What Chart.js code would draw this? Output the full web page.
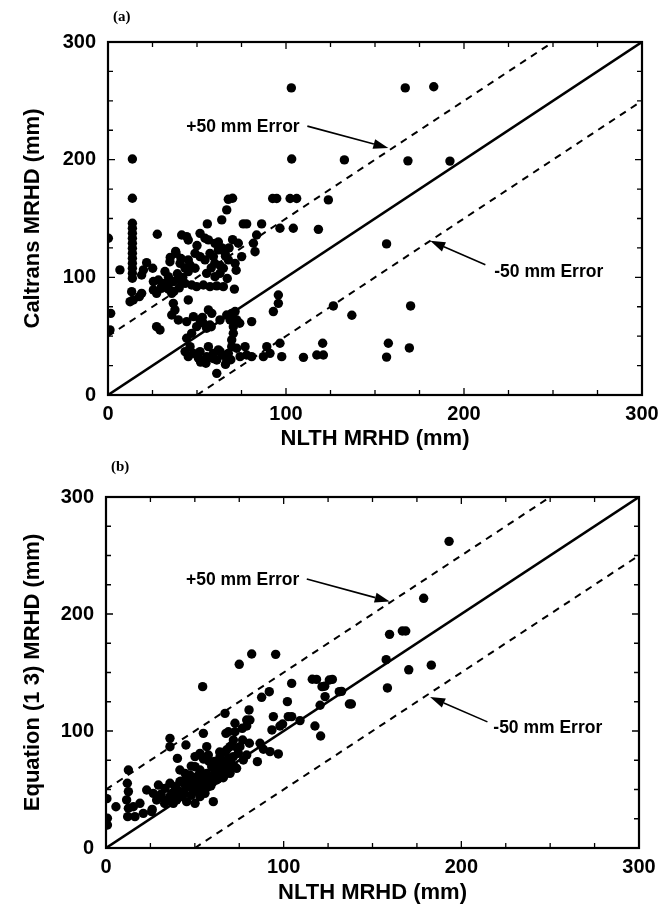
<!DOCTYPE html>
<html>
<head>
<meta charset="utf-8">
<script src="https://cdn.jsdelivr.net/npm/chart.js@4.4.1/dist/chart.umd.min.js"></script>
<style>
  html, body { margin: 0; padding: 0; background: #fff; }
  #wrap { position: relative; width: 668px; height: 909px; }
  canvas { position: absolute; left: 0; }
  #chartA { top: 0; }
  #chartB { top: 450px; }
</style>
</head>
<body>
<div id="wrap">
  <canvas id="chartA" width="668" height="455"></canvas>
  <canvas id="chartB" width="668" height="459"></canvas>
</div>
<script>
// (a) Caltrans MRHD vs NLTH MRHD, mm
var caltransNlth = [103, 167, 183, 13.7, 103.2, 132.8, 168.5, 192.1,
  13.7, 67.6, 70, 92.5, 94.8, 102.3, 106, 123.8, 66.7, 63.9,
  13.7, 13.7, 13.7, 13.7, 13.7, 13.7, 13.7, 13.7, 13.7, 13.7, 13.7, 13.7,
  0.2, 6.7, 21.7, 25.1, 27.7, 19.9, 18.9, 13.3, 14.2, 17.6, 12.4, 18.9, 1.5, 1.1,
  25.5, 27.3, 30.2, 33, 33.9, 32, 34.8, 38.2, 40.5, 43.3,
  41.4, 44.2, 45.1, 51.7, 54.5, 56.4, 55.8,
  76, 77.9, 86.3, 83.5, 81.7, 82.6, 73.2, 75.1, 71.4,
  96.6, 104.1, 118.2,
  48.9, 51.7, 54.5, 57.3, 59.2, 62, 60.1, 45.1, 46.1, 48.9, 45.1,
  65.8, 67.6, 64.8, 62.9, 55.4, 60.1,
  25.5, 28.3, 31.1, 33.9, 36.7, 40.5, 43.3, 47, 49.8, 53.6, 57.3, 61.1, 64.8,
  35.8, 36.7, 37.6, 35.8, 39.5, 44.2, 48, 45.1, 27.3, 29.2,
  56.4, 58.3, 51.7, 49.8, 47, 44.2, 53.6, 55.4, 57.3,
  62.9, 66.7, 69.5, 71.4, 72.3, 70.4, 68.6, 70.4, 69.5, 69.5, 67.6,
  80.7, 92.9, 95.7, 95.7,
  46.1, 43.3, 45.1, 48, 51.7, 50.8, 56.4, 59.2, 62, 63.9, 66.7, 61.1, 55.4,
  72.3, 74.2, 77, 77.9, 80.7, 61.1, 87.3, 89.2, 91, 96.6,
  97.6, 109.8, 117.3, 120.6, 121, 126.6, 137, 170, 156.5, 157.5, 156.5, 169.3,
  35, 38, 41, 39, 42, 58, 60, 63, 66, 68, 70, 72, 64, 67, 71, 74, 53, 58, 62, 50,
  30, 34, 37, 40, 52, 55, 59, 63, 66, 69];
var caltransMrhd = [261, 261, 262, 200.6, 200.6, 199.8, 199, 198.8,
  167.2, 166.3, 167.2, 167, 167, 167, 167, 165.8, 157.3, 148.8,
  146, 141.7, 137.4, 133.2, 128.9, 124.7, 120.4, 116.2, 111.9, 107.7, 103.4, 99.2,
  133.2, 106.3, 112.5, 107.7, 136.6, 106.3, 102, 87.8, 80.8, 83.6, 79.3, 86.4, 69.4, 55.3,
  89.3, 86.4, 90.7, 95, 100.6, 104.9, 113.3, 120.4, 111.9, 107.7,
  136, 134.6, 131.7, 137.4, 133.2, 131.8, 145.4,
  145.4, 145.4, 145.4, 136, 129, 121.8, 129, 117.6, 111.9,
  141.7, 141.7, 140.8,
  120.4, 117.6, 114.8, 120.4, 117.6, 123.3, 128.9, 114.8, 110.5, 107.7, 104.9,
  120.4, 114.8, 107.7, 103.4, 103.4, 100.6,
  96.4, 97.7, 94.9, 93.5, 96.4, 97.7, 94.9, 93.5, 92.1, 93.5, 92.1, 92.7, 92.1,
  86.4, 77.9, 72.3, 68, 63.8, 62.4, 66.6, 80.8, 58.1, 55.3,
  72.3, 69.4, 63.8, 58.1, 52.4, 48.2, 61, 56.7, 59.5,
  63.8, 68, 69.4, 70.9, 63.8, 58.1, 63.8, 52.4, 46.8, 41.1, 35.4,
  62.4, 70.9, 77.9, 85,
  41.1, 36.9, 32.6, 35.4, 36.9, 31.2, 41.1, 35.4, 38.3, 34, 29.8, 29.8, 32.6,
  39.7, 32.6, 41.1, 34, 32.6, 18.4, 32.6, 41.1, 35.4, 44,
  32.6, 32, 34, 44, 34, 75.7, 67.8, 75.7, 128.4, 44, 32.2, 40,
  117, 122, 116, 103, 100, 108, 112, 110, 118, 125, 132, 106, 125, 99, 90, 61, 66, 58, 130, 127,
  92, 90, 88, 91, 28, 27, 31, 37, 26, 30];

// (b) Equation (13) MRHD vs NLTH MRHD, mm
var eq13Nlth = [82, 95.5, 75, 54.4, 104.5, 116.1, 125.7, 121.6, 123.3, 131.3, 137, 120.5,
  117.6, 120.8, 109.2, 102.6, 104.5, 99.4, 97.9, 94.2, 93.4, 102.1, 87.6, 91.9,
  80.5, 79.2, 76.7, 72.6, 68.9, 67.5, 67, 54.8, 56.7, 45, 36, 36, 40.2, 12.6,
  0.5, 0.8, 0.8, 5.6, 12, 12.6, 11.6, 12.6, 12.2, 15.4, 19.1, 16.3, 21,
  22.9, 26.6, 25.7, 28.5, 30.4, 34.2, 37, 39.8, 42.6,
  29.5, 33.2, 36, 38.8, 41.6, 44.5, 41.6, 44.5, 47.3, 50.1, 52.9,
  37.9, 45.4, 50.1, 52.9, 55.7, 50.1, 52.9, 54.8, 57.6,
  47.3, 51, 54.8, 58.5, 61.4, 63.2, 60.4,
  65.1, 67, 69.8, 71.7, 74.5, 77.3, 79.2, 56.7, 59.5, 62.3, 64.2,
  66, 69.8, 73.5, 75.4, 76.9, 80.7, 85.2, 86.7, 88.6, 92.3, 97, 71.7, 72.6, 79.2, 81,
  193.1, 178.8, 159.6, 166.8, 168.7, 157.7, 170.4, 183.1, 158.4, 138.1, 132.6, 127.4, 123.1, 118.5,
  43, 46, 48, 50, 53, 56, 58, 60, 62, 64, 66, 68, 70, 58, 61, 64, 67, 48, 52, 45,
  40, 44, 47, 51, 55, 59, 63, 66, 69, 72, 42, 46, 49, 53, 57, 61, 65, 68, 71, 74,
  36, 39, 33, 31, 26, 60, 63, 67, 70, 55];
var eq13Mrhd = [165.8, 165.5, 157, 137.9, 140.7, 144.2, 143.6, 137.9, 129.4, 133.6, 123.1, 122,
  104.3, 95.7, 108.9, 112.3, 112.3, 106, 104.3, 112.3, 100.9, 125.1, 128.8, 133.6,
  118, 109.4, 102.3, 106.6, 99.4, 98, 115.1, 98, 86.6, 88, 93.7, 86.6, 76.6, 66.7,
  42.2, 25.4, 19.7, 35.3, 55.3, 48.2, 41.1, 34, 26.8, 35.3, 38.2, 26.8, 29.6,
  49.6, 46.7, 31.1, 41, 43.9, 41, 46.7, 41, 43.9,
  53.8, 51, 55.3, 52.4, 56.7, 53.8, 66.7, 63.8, 62.4, 69.5, 66.7,
  38.2, 39.6, 38.2, 43.9, 46.7, 78.1, 80.9, 76.6, 79.5,
  52.4, 55.3, 56.7, 59.5, 63.8, 68.1, 39.6,
  75.2, 82.3, 86.6, 78.1, 80.9, 75.2, 79.5, 63.8, 69.5, 72.4, 78.1,
  60.9, 63.8, 68.1, 86.6, 92.3, 89.5, 73.8, 89.5, 84.4, 82.4, 80.4, 92.3, 99.4, 104.3, 109.4,
  262.1, 213.4, 182.6, 185.5, 185.5, 161, 152.3, 156.3, 136.8, 123.1, 133.9, 144.1, 138.3, 144.1,
  48, 58, 45, 60, 50, 62, 55, 70, 58, 66, 72, 64, 74, 74, 68, 82, 72, 70, 62, 58,
  50, 47, 52, 49, 60, 53, 66, 60, 77, 70, 57, 62, 58, 65, 52, 74, 69, 84, 88, 85,
  44, 47, 38, 46, 33, 56, 59, 64, 67, 76];

// reference lines: perfect agreement and +/-50 mm error
var perfectX = [0, 300], perfectY = [0, 300];
var plus50X = [0, 250], plus50Y = [50, 300];
var minus50X = [50, 300], minus50Y = [0, 250];

var tickMarks = [0, 25, 50, 75, 100, 125, 150, 175, 200, 225, 250, 275, 300];

function pairs(xs, ys) {
  return xs.map(function (v, i) { return { x: v, y: ys[i] }; });
}

var frame = {
  id: 'frame',
  afterDatasetsDraw: function (chart, args, opts) {
    var ctx = chart.ctx, a = chart.chartArea;
    var xs = chart.scales.x, ys = chart.scales.y;
    ctx.save();
    ctx.strokeStyle = '#000';
    ctx.lineWidth = 2.2;
    ctx.strokeRect(a.left, a.top, a.right - a.left, a.bottom - a.top);
    ctx.lineWidth = 1.3;
    ctx.beginPath();
    tickMarks.forEach(function (v) {
      var px = xs.getPixelForValue(v), py = ys.getPixelForValue(v);
      var len = v % 100 === 0 ? 7 : 5;
      ctx.moveTo(px, a.bottom); ctx.lineTo(px, a.bottom - len);
      ctx.moveTo(px, a.top); ctx.lineTo(px, a.top + len);
      ctx.moveTo(a.left, py); ctx.lineTo(a.left + len, py);
      ctx.moveTo(a.right, py); ctx.lineTo(a.right - len, py);
    });
    ctx.stroke();

    ctx.fillStyle = '#000';
    ctx.font = 'bold 17.5px "Liberation Sans", Arial, sans-serif';
    ctx.textBaseline = 'middle';
    ctx.textAlign = 'left';
    opts.notes.forEach(function (n) {
      ctx.fillText(n.text, xs.getPixelForValue(n.at[0]), ys.getPixelForValue(n.at[1]));
      var x1 = xs.getPixelForValue(n.from[0]), y1 = ys.getPixelForValue(n.from[1]);
      var x2 = xs.getPixelForValue(n.to[0]), y2 = ys.getPixelForValue(n.to[1]);
      var ang = Math.atan2(y2 - y1, x2 - x1);
      var hl = 15, hw = 5;
      ctx.lineWidth = 1.6;
      ctx.beginPath();
      ctx.moveTo(x1, y1);
      ctx.lineTo(x2 - hl * Math.cos(ang), y2 - hl * Math.sin(ang));
      ctx.stroke();
      ctx.beginPath();
      ctx.moveTo(x2, y2);
      ctx.lineTo(x2 - hl * Math.cos(ang) + hw * Math.sin(ang), y2 - hl * Math.sin(ang) - hw * Math.cos(ang));
      ctx.lineTo(x2 - hl * Math.cos(ang) - hw * Math.sin(ang), y2 - hl * Math.sin(ang) + hw * Math.cos(ang));
      ctx.closePath();
      ctx.fill();
    });

    ctx.font = 'bold 15px "Liberation Serif", "Times New Roman", serif';
    ctx.textAlign = 'left';
    ctx.fillText(opts.tag, a.left + 5, opts.tagY);
    ctx.restore();
  }
};

function makeChart(id, xs, ys, yTitle, tag, tagY, notes, area) {
  var tickFont = { family: '"Liberation Sans", Arial, sans-serif', size: 20, weight: 'bold' };
  var titleFont = { family: '"Liberation Sans", Arial, sans-serif', size: 22, weight: 'bold' };
  return new Chart(document.getElementById(id), {
    type: 'scatter',
    data: {
      datasets: [
        { data: pairs(xs, ys), backgroundColor: '#000', borderWidth: 0, pointRadius: 4.7 },
        { data: pairs(perfectX, perfectY), showLine: true, borderColor: '#000', borderWidth: 2.6, pointRadius: 0 },
        { data: pairs(plus50X, plus50Y), showLine: true, borderColor: '#000', borderWidth: 2, borderDash: [7, 6], pointRadius: 0 },
        { data: pairs(minus50X, minus50Y), showLine: true, borderColor: '#000', borderWidth: 2, borderDash: [7, 6], pointRadius: 0 }
      ]
    },
    options: {
      responsive: false,
      animation: false,
      devicePixelRatio: 1,
      layout: { padding: { left: 0, top: area.top, right: area.right, bottom: 0 } },
      plugins: {
        legend: { display: false },
        tooltip: { enabled: false },
        frame: { notes: notes, tag: tag, tagY: tagY }
      },
      scales: {
        x: {
          type: 'linear', min: 0, max: 300,
          grid: { display: false, drawTicks: false },
          border: { display: false },
          ticks: { stepSize: 100, color: '#000', font: tickFont, padding: 7, maxRotation: 0 },
          title: { display: true, text: 'NLTH MRHD (mm)', color: '#000', font: titleFont, padding: { top: 0, bottom: 3 } },
          afterFit: function (s) { s.height = area.xh; }
        },
        y: {
          type: 'linear', min: 0, max: 300,
          grid: { display: false, drawTicks: false },
          border: { display: false },
          ticks: { stepSize: 100, color: '#000', font: tickFont, padding: 12 },
          title: { display: true, text: yTitle, color: '#000', font: titleFont, padding: { top: 20, bottom: 0 } },
          afterFit: function (s) { s.width = area.yw; }
        }
      }
    },
    plugins: [frame]
  });
}

makeChart('chartA', caltransNlth, caltransMrhd, 'Caltrans MRHD (mm)', '(a)', 17,
  [
    { text: '+50 mm Error', at: [44, 228], from: [112, 228.5], to: [157.5, 210] },
    { text: '-50 mm Error', at: [217, 104], from: [212, 110.7], to: [181, 131] }
  ],
  { top: 42, right: 26, xh: 60, yw: 108 });

makeChart('chartB', eq13Nlth, eq13Mrhd, 'Equation (1 3) MRHD (mm)', '(b)', 17,
  [
    { text: '+50 mm Error', at: [45, 229], from: [113, 230], to: [159.7, 210.6] },
    { text: '-50 mm Error', at: [218, 102], from: [214.7, 107.8], to: [182.4, 129] }
  ],
  { top: 47, right: 29, xh: 61, yw: 106 });
</script>
</body>
</html>
